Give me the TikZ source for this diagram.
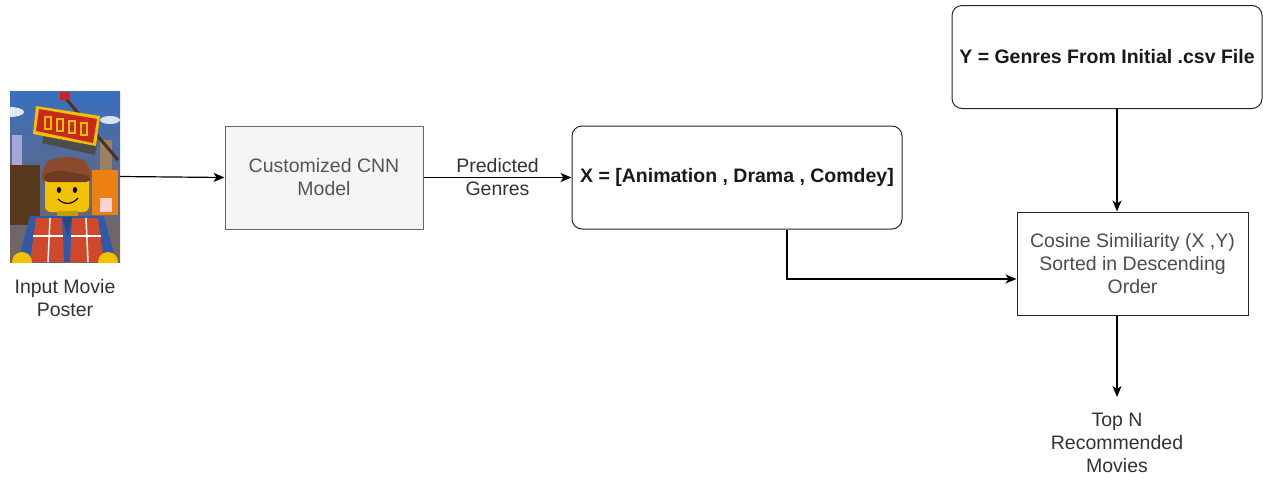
\documentclass[tikz,border=0pt]{standalone}
\usepackage{fontspec}
\setmainfont{Liberation Sans}
\usetikzlibrary{arrows.meta,calc}
\definecolor{cnnfill}{HTML}{F5F5F5}
\definecolor{cnnline}{HTML}{666666}
\definecolor{txtdark}{HTML}{333333}
\definecolor{txtgray}{HTML}{555555}
\definecolor{skyblue}{HTML}{3A6FC0}
\definecolor{citybrown}{HTML}{7A6458}
\definecolor{legored}{HTML}{C8281E}
\definecolor{legoyel}{HTML}{F2C200}
\definecolor{hairbrown}{HTML}{8B4A2B}
\definecolor{shirtblue}{HTML}{2E5AA8}
\definecolor{vestred}{HTML}{D0482A}
\tikzset{
  lbl/.style={font=\fontsize{19.5}{23}\selectfont, align=center, text=txtdark, inner sep=1pt},
  boxcnn/.style={draw=cnnline, fill=cnnfill, line width=1pt, minimum width=198pt, minimum height=103pt,
     font=\fontsize{19.5}{23}\selectfont, align=center, text=txtgray},
  roundbox/.style={draw=black!85, line width=1pt, rounded corners=10pt, minimum height=103pt,
     font=\bfseries\fontsize{19.5}{23}\selectfont, align=center, text=black!90},
  plainbox/.style={draw=black!85, line width=1pt, minimum width=231pt, minimum height=103pt,
     font=\fontsize{19.5}{23}\selectfont, align=center, text=black!70},
  arr/.style={draw=black, line width=1.2pt, -{Stealth[length=11pt,width=9pt,inset=3pt]}}
}
\begin{document}
\begin{tikzpicture}[x=1pt,y=-1pt]
\useasboundingbox (0,0) rectangle (1263,480);
\fill[white] (0,0) rectangle (1263,480);

% ---------- poster scene ----------
\begin{scope}
\clip (10,91) rectangle (120,262);
\shade[top color=skyblue, bottom color=citybrown, middle color=skyblue!50!citybrown] (10,91) rectangle (120,262);
% clouds
\fill[white!85!skyblue] (10,112) ellipse (14 and 5);
\fill[white!80!skyblue] (110,120) ellipse (10 and 4);
% city silhouettes
\fill[gray!60!blue!50] (12,135) rectangle (22,200);
\fill[gray!55!brown] (100,140) rectangle (112,210);
\fill[black!55!brown] (10,165) rectangle (40,225);
\fill[orange!70!brown] (92,170) rectangle (118,215);
\fill[pink!70!white] (100,198) rectangle (112,212);
% crane
\draw[line width=3pt, black!60!brown] (62,94) -- (118,160);
\fill[legored] (60,92) rectangle (70,100);
% LEGO logo
\fill[black!40!gray] (45,128) -- (98,138) -- (95,155) -- (42,143) -- cycle;
\fill[legoyel] (36,106) -- (100,116) -- (96,146) -- (33,134) -- cycle;
\fill[legored] (39,109) -- (97,119) -- (93,143) -- (36,131) -- cycle;
\fill[legoyel] (44,116) rectangle (52,130);
\fill[legoyel] (56,118) rectangle (64,132);
\fill[legoyel] (68,120) rectangle (76,134);
\fill[legoyel] (80,122) rectangle (88,136);
\fill[legored] (46,118) rectangle (50,128);
\fill[legored] (58,120) rectangle (62,130);
\fill[legored] (70,122) rectangle (74,132);
\fill[legored] (82,124) rectangle (86,134);
% hair
\fill[hairbrown, rounded corners=10pt] (42,186) -- (42,165) -- (55,157) -- (80,157) -- (91,166) -- (91,186) -- cycle;
% face
\fill[legoyel, rounded corners=6pt] (45,176) rectangle (89,212);
\fill[hairbrown!80!black, rounded corners=4pt] (44,174) -- (60,170) -- (90,176) -- (90,182) -- (44,182) -- cycle;
\fill[black] (59,190) ellipse (2.2 and 3);
\fill[black] (75,190) ellipse (2.2 and 3);
\draw[black, line width=1.2pt] (58,199) .. controls (64,205) and (72,205) .. (78,198);
% neck
\fill[legoyel!80!black] (57,211) rectangle (78,217);
% torso
\fill[shirtblue] (30,216) -- (104,216) -- (116,262) -- (18,262) -- cycle;
\fill[vestred] (36,218) -- (62,218) -- (64,262) -- (30,262) -- cycle;
\fill[vestred] (72,218) -- (98,218) -- (104,262) -- (70,262) -- cycle;
\draw[white, line width=2pt] (33,236) -- (63,236);
\draw[white, line width=2pt] (71,236) -- (101,236);
\draw[white, line width=1.5pt] (50,218) -- (48,262);
\draw[white, line width=1.5pt] (86,218) -- (88,262);
\fill[shirtblue!80!black] (62,217) -- (72,217) -- (68,236) -- cycle;
% hands
\fill[legoyel] (22,262) circle (10);
\fill[legoyel] (108,262) circle (10);
\end{scope}
\node[minimum width=110pt, minimum height=171pt, inner sep=0pt] (poster) at (65,176.5) {};
\node[lbl] (posterlbl) at (65,298.5) {Input Movie\\Poster};

% ---------- boxes ----------
\node[boxcnn] (cnn) at (324,177.5) {Customized CNN\\Model};
\node[roundbox, minimum width=330pt] (xbox) at (737,177.5) {X = [Animation , Drama , Comdey]};
\node[roundbox, minimum width=310pt] (ybox) at (1107,57) {Y = Genres From Initial .csv File};
\node[plainbox] (cos) at (1132.5,263.5) {Cosine Similiarity (X ,Y)\\Sorted in Descending\\Order};
\node[lbl] (topn) at (1117,443) {Top N\\Recommended\\Movies};

\coordinate (cx) at (1117,0);
\coordinate (bx) at (787,0);
\coordinate (topend) at (1117,397);

% ---------- connectors ----------
\draw[arr] (poster.east) -- (cnn.west);
\draw[arr] (cnn.east) -- node[lbl, midway] (predlbl) {Predicted\\Genres} (xbox.west);
\draw[arr] (xbox.south -| bx) |- ([yshift=-15.5pt]cos.west);
\draw[arr] (ybox.south -| cx) -- (cos.north -| cx);
\draw[arr] (cos.south -| cx) -- (topend);
\end{tikzpicture}
\end{document}
